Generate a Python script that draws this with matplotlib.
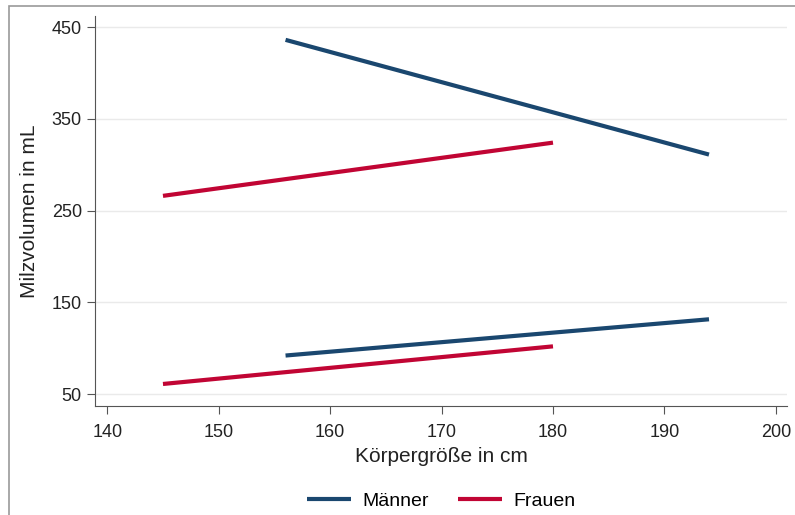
import matplotlib.pyplot as plt
from matplotlib.patches import Rectangle

plt.rcParams['font.family'] = ['Liberation Sans', 'DejaVu Sans']

# Fit lines (endpoints)
m_x = [156, 194]
m_upper = [436, 311]
m_lower = [92, 131.5]
f_x = [145, 180]
f_upper = [266, 324]
f_lower = [61, 102]

xticks = [140, 150, 160, 170, 180, 190, 200]
yticks = [50, 150, 250, 350, 450]

blue = '#1a476f'
red = '#c10534'

fig = plt.figure(figsize=(7.95, 5.15), dpi=100)
ax = fig.add_axes([95 / 795, 1 - 406 / 515, 692 / 795, 390 / 515])

ax.plot(m_x, m_upper, color=blue, lw=3, solid_capstyle='butt', label='Männer')
ax.plot(m_x, m_lower, color=blue, lw=3, solid_capstyle='butt')
ax.plot(f_x, f_upper, color=red, lw=3, solid_capstyle='butt', label='Frauen')
ax.plot(f_x, f_lower, color=red, lw=3, solid_capstyle='butt')

ax.set_xlim(138.9, 201)
ax.set_ylim(37, 462)
ax.set_xticks(xticks)
ax.set_yticks(yticks)
ax.grid(axis='y', color='#eaeaea', lw=1)
ax.set_axisbelow(True)
for s in ['top', 'right']:
    ax.spines[s].set_visible(False)
for s in ['left', 'bottom']:
    ax.spines[s].set_color('#555555')
ax.tick_params(colors='#555555', labelcolor='#222222', labelsize=13, length=6)
ax.tick_params(axis='x', pad=7)
ax.set_xlabel('Körpergröße in cm', fontsize=15, color='#222222', labelpad=4)
ax.set_ylabel('Milzvolumen in mL', fontsize=15, color='#222222', labelpad=9)

fig.legend(loc='center', bbox_to_anchor=(441 / 795, 1 - 501 / 515), ncol=2,
           frameon=False, fontsize=14, handlelength=2.27, handletextpad=0.57,
           columnspacing=1.5)

fig.patches.append(Rectangle((9 / 795, -0.1), 1.2, 1 - 6 / 515 + 0.1,
                             transform=fig.transFigure, fill=False,
                             edgecolor='#999999', lw=1.2))

fig.savefig('out.png', dpi=100)
